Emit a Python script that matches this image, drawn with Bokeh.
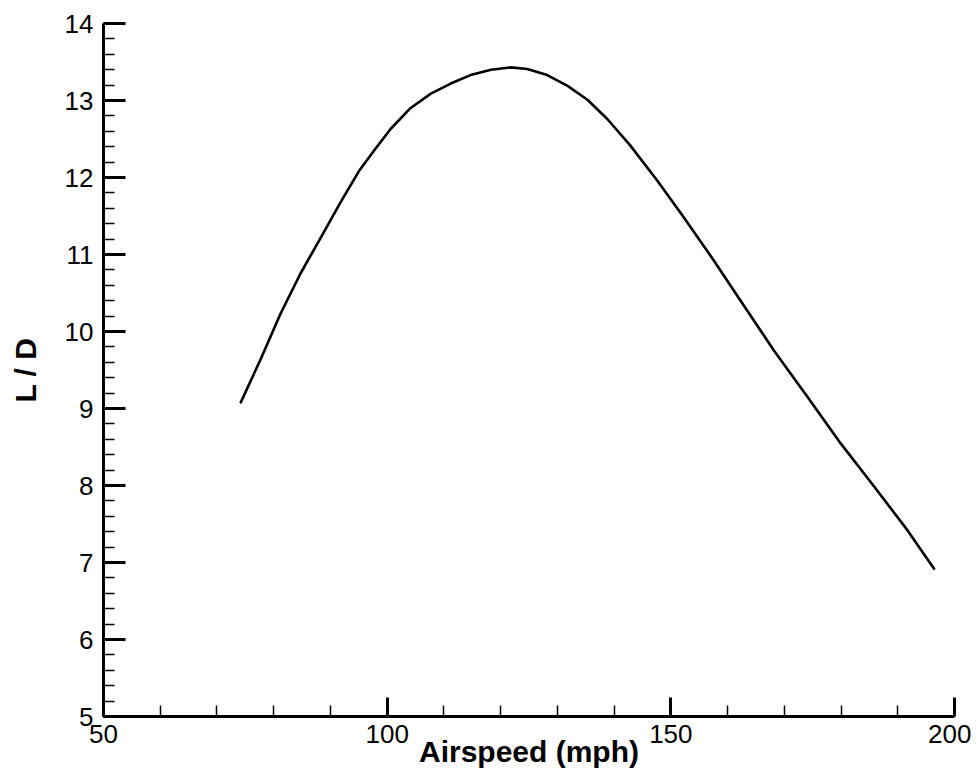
from bokeh.plotting import figure
from bokeh.models import SingleIntervalTicker, Range1d
from bokeh.embed import file_html
from bokeh.resources import INLINE

# Data (Airspeed in mph, lift-to-drag ratio)
airspeed = [74.2, 77.7, 81.2, 84.7, 88.3, 91.8, 95.0, 97.7, 100.6, 104.1,
            107.7, 111.2, 114.7, 118.3, 121.8, 124.7, 128.2, 131.8, 135.3,
            138.8, 142.8, 147.6, 152.3, 157.6, 162.3, 168.2, 174.1, 180.0,
            185.9, 191.7, 196.4]
lift_drag = [9.08, 9.64, 10.23, 10.75, 11.22, 11.68, 12.08, 12.35, 12.63, 12.90,
             13.09, 13.22, 13.33, 13.40, 13.43, 13.41, 13.33, 13.19, 13.01,
             12.76, 12.42, 11.96, 11.48, 10.92, 10.40, 9.75, 9.15, 8.54,
             7.98, 7.42, 6.92]

x_label = "Airspeed (mph)"
y_label = "L / D"

p = figure(width=971, height=772, output_backend="svg", toolbar_location=None,
           x_range=Range1d(50, 200), y_range=Range1d(5, 14),
           min_border_left=103, min_border_right=17, min_border_top=23,
           min_border_bottom=56)
p.outline_line_color = None
p.xgrid.visible = False
p.ygrid.visible = False
p.background_fill_color = "white"
p.border_fill_color = "white"

p.line(airspeed, lift_drag, line_color="black", line_width=2.6,
       line_join="round", line_cap="round")

xa = p.xaxis[0]
ya = p.yaxis[0]
xa.ticker = SingleIntervalTicker(interval=50, num_minor_ticks=5)
ya.ticker = SingleIntervalTicker(interval=1, num_minor_ticks=5)

for ax in (xa, ya):
    ax.axis_line_width = 3
    ax.axis_line_color = "black"
    ax.major_tick_line_width = 3
    ax.major_tick_line_color = "black"
    ax.minor_tick_line_width = 1.5
    ax.minor_tick_line_color = "black"
    ax.major_tick_out = 0
    ax.minor_tick_out = 0
    ax.minor_tick_in = 11
    ax.major_label_text_font = "Liberation Sans"
    ax.major_label_text_font_size = "26px"
    ax.major_label_text_color = "black"
    ax.axis_label_text_font = "Liberation Sans"
    ax.axis_label_text_font_style = "bold"
    ax.axis_label_text_color = "black"

xa.major_label_standoff = 8
ya.major_label_standoff = 10
xa.major_tick_in = 19
ya.major_tick_in = 22
xa.axis_label = x_label
ya.axis_label = y_label
xa.axis_label_text_font_size = "30px"
ya.axis_label_text_font_size = "30px"
xa.axis_label_standoff = -11
ya.axis_label_standoff = 20

open("out.html", "w").write(file_html(p, INLINE))
